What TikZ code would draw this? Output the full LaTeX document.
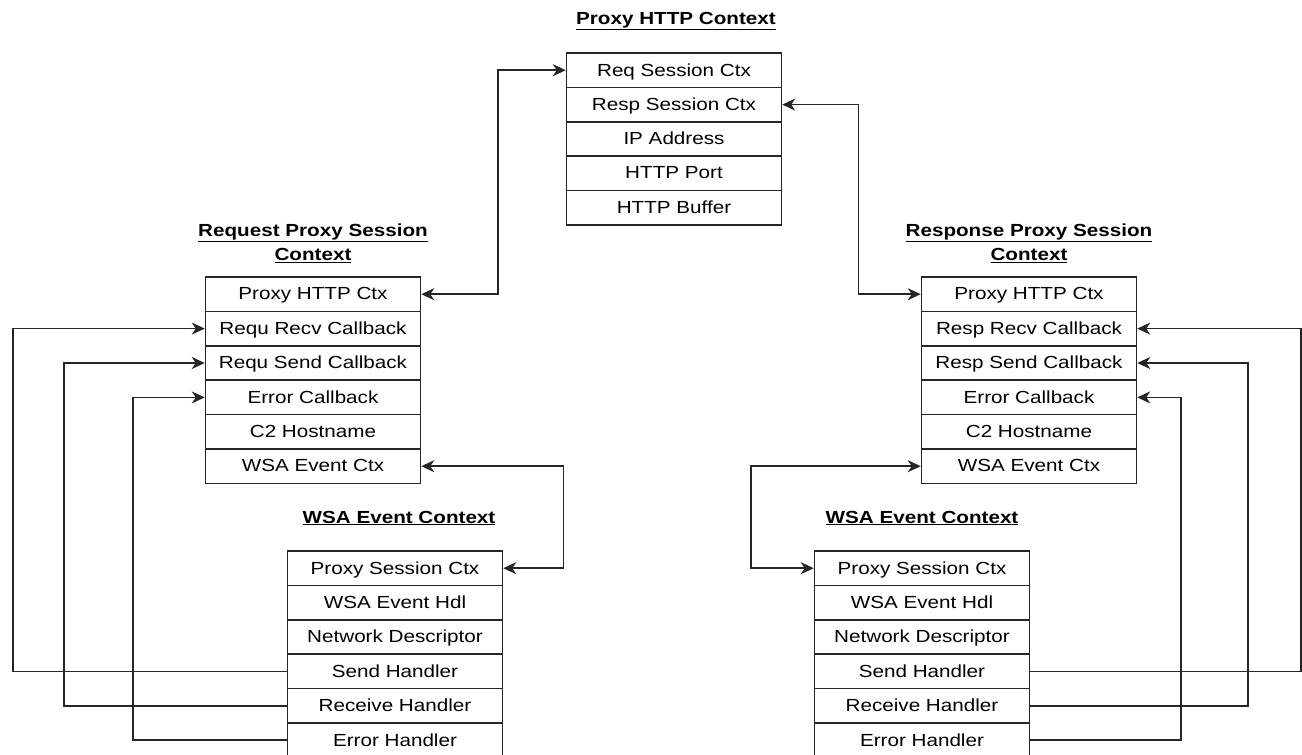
\documentclass[tikz,border=0pt]{standalone}
\usepackage{fontspec}
\setmainfont{Liberation Sans}[FakeStretch=1.18]
\usetikzlibrary{arrows.meta, positioning}

\begin{document}
\begin{tikzpicture}[x=1pt, y=-1pt, line width=1.5pt,
                    cell/.style={draw=black!85, minimum width=215, minimum height=34.4, inner sep=0pt, text depth=1pt, font=\fontsize{17.5}{20}\selectfont},
                    ttl/.style={align=center, font=\fontsize{17.5}{24}\selectfont\bfseries},
                    tip/.style={draw=black!85, -{Stealth[length=13pt, width=12pt, inset=4pt]}},
                    tips/.style={draw=black!85, {Stealth[length=13pt, width=12pt, inset=4pt]}-{Stealth[length=13pt, width=12pt, inset=4pt]}}]
                        \useasboundingbox (0, 0) rectangle (1302, 755);
                        % titles
                        \node[ttl] (th) at (676, 21) {\underline{Proxy HTTP Context}};
                        \node[ttl] (tq) at (313, 243) {\underline{Request Proxy Session}\\\underline{Context}};
                        \node[ttl] (tr) at (1029, 243) {\underline{Response Proxy Session}\\\underline{Context}};
                        \node[ttl] (twl) at (399, 518) {\underline{WSA Event Context}};
                        \node[ttl] (twr) at (922, 518) {\underline{WSA Event Context}};
                        % proxy http context
                        \node[cell] (h1) at (674, 70.2) {Req Session Ctx};
                        \node[cell] (h2) at (674, 104.6) {Resp Session Ctx};
                        \node[cell] (h3) at (674, 139) {IP Address};
                        \node[cell] (h4) at (674, 173.4) {HTTP Port};
                        \node[cell] (h5) at (674, 207.8) {HTTP Buffer};
                        % request proxy session context
                        \node[cell] (q1) at (313, 294.2) {Proxy HTTP Ctx};
                        \node[cell] (q2) at (313, 328.6) {Requ Recv Callback};
                        \node[cell] (q3) at (313, 363) {Requ Send Callback};
                        \node[cell] (q4) at (313, 397.4) {Error Callback};
                        \node[cell] (q5) at (313, 431.8) {C2 Hostname};
                        \node[cell] (q6) at (313, 466.2) {WSA Event Ctx};
                        % response proxy session context
                        \node[cell] (r1) at (1029, 294.2) {Proxy HTTP Ctx};
                        \node[cell] (r2) at (1029, 328.6) {Resp Recv Callback};
                        \node[cell] (r3) at (1029, 363) {Resp Send Callback};
                        \node[cell] (r4) at (1029, 397.4) {Error Callback};
                        \node[cell] (r5) at (1029, 431.8) {C2 Hostname};
                        \node[cell] (r6) at (1029, 466.2) {WSA Event Ctx};
                        % wsa event contexts
                        \node[cell] (wl1) at (395, 568.2) {Proxy Session Ctx};
                        \node[cell] (wl2) at (395, 602.6) {WSA Event Hdl};
                        \node[cell] (wl3) at (395, 637) {Network Descriptor};
                        \node[cell] (wl4) at (395, 671.4) {Send Handler};
                        \node[cell] (wl5) at (395, 705.8) {Receive Handler};
                        \node[cell] (wl6) at (395, 740.2) {Error Handler};
                        \node[cell] (wr1) at (922, 568.2) {Proxy Session Ctx};
                        \node[cell] (wr2) at (922, 602.6) {WSA Event Hdl};
                        \node[cell] (wr3) at (922, 637) {Network Descriptor};
                        \node[cell] (wr4) at (922, 671.4) {Send Handler};
                        \node[cell] (wr5) at (922, 705.8) {Receive Handler};
                        \node[cell] (wr6) at (922, 740.2) {Error Handler};
                        % two-way links
                        \draw[tips] (h1.west) -- ++(-68, 0) |- (q1.east);
                        \draw[tips] (h2.east) -- ++(76, 0) |- (r1.west);
                        \draw[tips] (q6.east) -- ++(142, 0) |- (wl1.east);
                        \draw[tips] (r6.west) -- ++(-170, 0) |- (wr1.west);
                        % handlers to callbacks
                        \draw[tip] (wl4.west) -- ++(-274, 0) |- (q2.west);
                        \draw[tip] (wl5.west) -- ++(-223, 0) |- (q3.west);
                        \draw[tip] (wl6.west) -- ++(-154, 0) |- (q4.west);
                        \draw[tip] (wr4.east) -- ++(270.5, 0) |- (r2.east);
                        \draw[tip] (wr5.east) -- ++(217.5, 0) |- (r3.east);
                        \draw[tip] (wr6.east) -- ++(150.5, 0) |- (r4.east);
                    \end{tikzpicture}
\end{document}
